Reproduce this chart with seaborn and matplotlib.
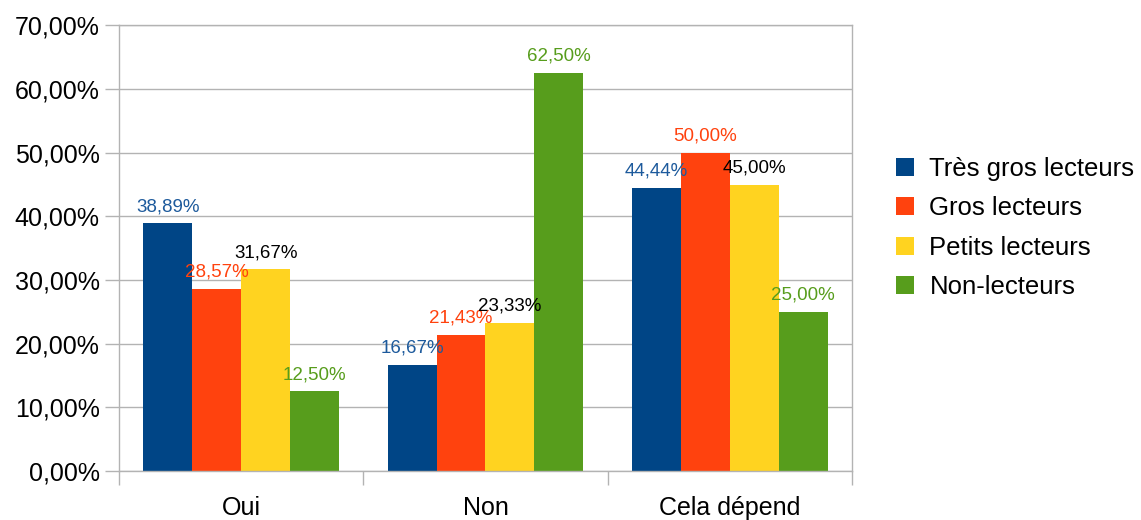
import matplotlib
matplotlib.use("Agg")
import matplotlib.pyplot as plt
import numpy as np
import pandas as pd
import seaborn as sns

# data
categories = ["Oui", "Non", "Cela dépend"]
groups = ["Très gros lecteurs", "Gros lecteurs", "Petits lecteurs", "Non-lecteurs"]
tres_gros = [38.89, 16.67, 44.44]
gros = [28.57, 21.43, 50.00]
petits = [31.67, 23.33, 45.00]
non_lecteurs = [12.50, 62.50, 25.00]

colors = ["#004586", "#ff420e", "#ffd320", "#579d1c"]
label_colors = ["#1d5a9c", "#ff420e", "#000000", "#579d1c"]

rows = []
for g, vals in zip(groups, [tres_gros, gros, petits, non_lecteurs]):
    for c, v in zip(categories, vals):
        rows.append({"categorie": c, "groupe": g, "valeur": v})
df = pd.DataFrame(rows)

sns.set_style("white")
plt.rcParams["font.family"] = ["Liberation Sans", "DejaVu Sans"]
plt.rcParams["text.color"] = "black"
plt.rcParams["xtick.color"] = "black"
plt.rcParams["ytick.color"] = "black"

fig = plt.figure(figsize=(11.41, 5.2), dpi=100)
ax = fig.add_axes([0.1043, 0.0942, 0.6424, 0.8568])

sns.barplot(data=df, x="categorie", y="valeur", hue="groupe", order=categories,
            hue_order=groups, palette=colors, width=0.8, saturation=1,
            errorbar=None, linewidth=0, ax=ax)

def fr(v):
    return f"{v:.2f}%".replace(".", ",")

for cont, col in zip(ax.containers, label_colors):
    ax.bar_label(cont, labels=[fr(b.get_height()) for b in cont],
                 padding=6, color=col, fontsize=13.5)

ax.set_ylim(0, 70)
ax.set_xlim(-0.5, 2.5)
yt = np.arange(0, 71, 10)
ax.set_yticks(yt)
ax.set_yticklabels([f"{v:.2f}%".replace(".", ",") for v in yt], fontsize=18)
ax.set_xticks(range(len(categories)))
ax.set_xticklabels(categories, fontsize=18)
ax.set_xticks([-0.5, 0.5, 1.5, 2.5], minor=True)
ax.tick_params(axis="x", which="major", bottom=True, length=0, pad=18)
ax.tick_params(axis="x", which="minor", bottom=True, length=10, color="#b3b3b3", width=1)
ax.tick_params(axis="y", left=True, length=10, color="#b3b3b3", labelcolor="black", width=1, pad=4)
ax.yaxis.grid(True, color="#b3b3b3", linewidth=1)
ax.set_axisbelow(True)
for s in ax.spines.values():
    s.set_color("#b3b3b3")
    s.set_linewidth(1)
ax.set_xlabel("")
ax.set_ylabel("")

handles, labels = ax.get_legend_handles_labels()
ax.get_legend().remove()
fig.legend(handles, labels, loc="center left", bbox_to_anchor=(0.765, 0.5615),
           frameon=False, fontsize=18.5, handlelength=0.7, handleheight=0.7,
           handletextpad=0.6, labelspacing=0.6)

fig.savefig("out.png", dpi=100)
